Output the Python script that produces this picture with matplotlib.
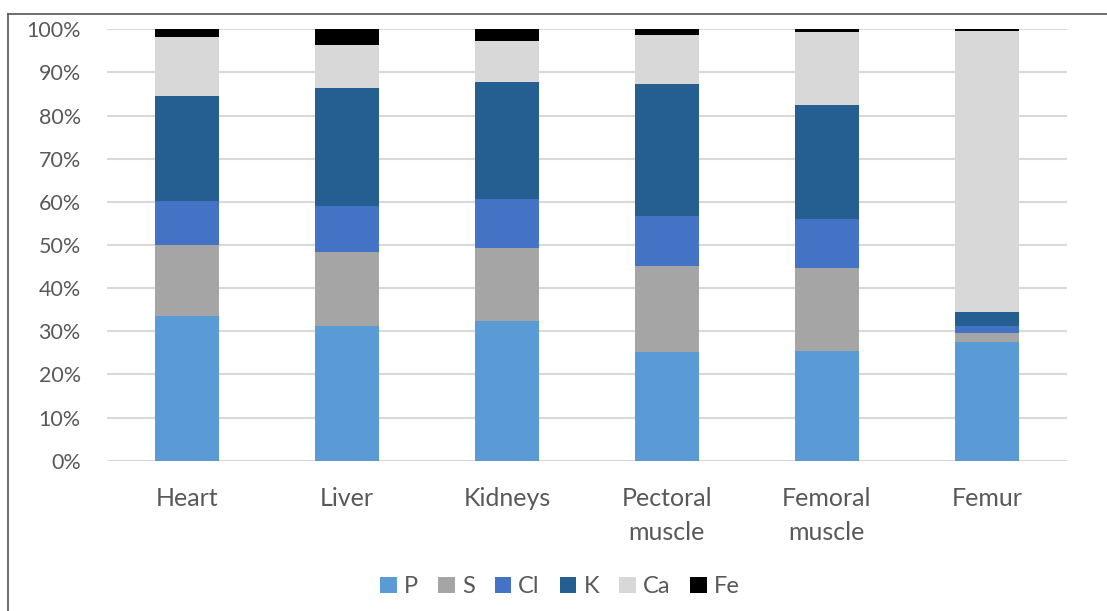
import matplotlib.pyplot as plt
from matplotlib.lines import Line2D
import numpy as np

# Data (percent of total)
organs = ['Heart', 'Liver', 'Kidneys', 'Pectoral\nmuscle', 'Femoral\nmuscle', 'Femur']
elements = ['P', 'S', 'Cl', 'K', 'Ca', 'Fe']
P = [33.6, 31.2, 32.4, 25.2, 25.4, 27.6]
S = [16.3, 17.1, 16.8, 20.0, 19.3, 1.9]
Cl = [10.3, 10.8, 11.5, 11.6, 11.3, 1.7]
K = [24.3, 27.2, 27.1, 30.6, 26.5, 3.3]
Ca = [13.8, 10.1, 9.5, 11.4, 16.8, 65.1]
Fe = [1.7, 3.6, 2.7, 1.2, 0.7, 0.4]
series = [P, S, Cl, K, Ca, Fe]
colors = ['#5B9BD5', '#A5A5A5', '#4472C4', '#255E91', '#D8D8D8', '#000000']

plt.rcParams['font.family'] = ['Lato', 'DejaVu Sans']
text_color = '#595959'

fig = plt.figure(figsize=(11.07, 6.11), dpi=100)
ax = fig.add_axes([0.0967, 0.246, 0.867, 0.706])

x = np.arange(len(organs))
bottom = np.zeros(len(organs))
for name, vals, c in zip(elements, series, colors):
    ax.bar(x, vals, 0.4, bottom=bottom, color=c, label=name, zorder=3)
    bottom += np.array(vals)

ax.set_xlim(-0.5, len(organs) - 0.5)
ax.set_ylim(0, 100)
ax.set_yticks(range(0, 101, 10))
ax.set_yticklabels([f'{v}%' for v in range(0, 101, 10)])
ax.set_xticks(x)
ax.set_xticklabels(organs, linespacing=1.6)
ax.yaxis.grid(True, color='#D9D9D9', linewidth=1.5, zorder=0)
for s in ax.spines.values():
    s.set_visible(False)
ax.tick_params(axis='both', length=0, colors=text_color)
ax.tick_params(axis='y', labelsize=15.5, pad=19)
ax.tick_params(axis='x', labelsize=18, pad=19)

fig.legend(loc='center', bbox_to_anchor=(0.506, 0.04), ncol=6, frameon=False,
           fontsize=17, handlelength=0.7, handleheight=0.7, handletextpad=0.3,
           columnspacing=0.85, labelcolor=text_color)

# partial outer frame visible in the reference (top and left edges)
fig.add_artist(Line2D([8 / 1107, 1], [1 - 14 / 611] * 2, color='#555555', linewidth=1.2))
fig.add_artist(Line2D([8 / 1107] * 2, [0, 1 - 14 / 611], color='#555555', linewidth=1.2))

fig.savefig('out.png', dpi=100, facecolor='white')
